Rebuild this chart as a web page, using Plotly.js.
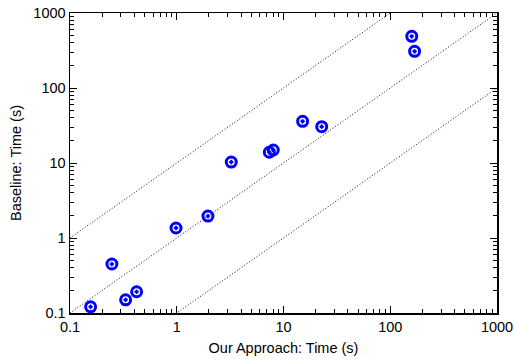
<!DOCTYPE html>
<html>
<head>
<meta charset="utf-8">
<script src="https://cdn.plot.ly/plotly-3.0.1.min.js"></script>
<style>
  html, body { margin: 0; padding: 0; background: #fff; }
  #chart { width: 514px; height: 360px; }
</style>
</head>
<body>
<div id="chart"></div>
<script>
// Run times per benchmark instance (seconds)
const ourTime = [0.156, 0.247, 0.332, 0.421, 0.984, 1.96, 3.24, 7.36, 8.02, 15.1, 22.8, 159, 169];
const baselineTime = [0.121, 0.45, 0.150, 0.192, 1.36, 1.96, 10.3, 13.9, 14.9, 36.0, 30.5, 489, 308];

// Reference diagonals: baseline = ratio * ours
const speedRatios = [10, 1, 0.1];

const tickValues = [0.1, 1, 10, 100, 1000];
const tickLabels = ['0.1', '1', '10', '100', '1000'];
const axisSpan = [0.1, 1000];

const font = { family: 'Liberation Sans, Arial, Helvetica, sans-serif', size: 14.5, color: '#000' };

const diagonals = speedRatios.map(r => ({
  x: axisSpan,
  y: axisSpan.map(v => v * r),
  mode: 'lines',
  line: { color: '#111', width: 1, dash: '1px,2px' },
  hoverinfo: 'skip',
  showlegend: false
}));

const points = {
  x: ourTime,
  y: baselineTime,
  mode: 'markers',
  marker: {
    symbol: 'circle-dot',
    size: 10,
    color: 'rgba(0,0,0,0)',
    line: { color: '#0000ff', width: 3 }
  },
  showlegend: false
};

function axis(titleText, standoff) {
  return {
    type: 'log',
    range: [Math.log10(axisSpan[0]), Math.log10(axisSpan[1])],
    tickvals: tickValues,
    ticktext: tickLabels,
    ticks: 'inside',
    ticklen: 7,
    tickwidth: 1,
    tickcolor: '#000',
    mirror: 'allticks',
    showline: true,
    linecolor: '#000',
    linewidth: 1.5,
    showgrid: false,
    zeroline: false,
    tickfont: font,
    minor: { ticks: 'inside', ticklen: 4, tickwidth: 1, tickcolor: '#000', dtick: 'D1', showgrid: false },
    title: { text: titleText, font: font, standoff: standoff }
  };
}

const layout = {
  width: 514,
  height: 360,
  margin: { l: 70, r: 17, t: 13, b: 47 },
  paper_bgcolor: '#fff',
  plot_bgcolor: '#fff',
  font: font,
  xaxis: axis('Our Approach: Time (s)', 9),
  yaxis: axis('Baseline: Time (s)', 8),
  showlegend: false
};

Plotly.newPlot('chart', diagonals.concat([points]), layout, { staticPlot: true, displayModeBar: false });
</script>
</body>
</html>
